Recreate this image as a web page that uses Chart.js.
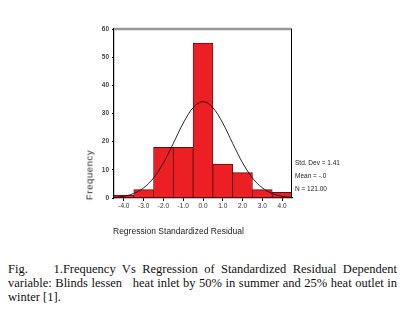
<!DOCTYPE html>
<html>
<head>
<meta charset="utf-8">
<script src="https://cdn.jsdelivr.net/npm/chart.js@4"></script>
<style>
  html, body { margin: 0; padding: 0; background: #fff; }
  body { width: 405px; height: 312px; position: relative; overflow: hidden; }
  #wrap { position: absolute; left: 0; top: 0; width: 405px; height: 240px; }
  .lbl { position: absolute; font-family: "Liberation Sans", Arial, sans-serif; color: #222; white-space: nowrap; }
  #ytitle { left: 89px; top: 175px; font-size: 9.5px; letter-spacing: 0.6px; transform: translate(-50%, -50%) rotate(-90deg); }
  #xtitle { left: 113px; top: 226px; font-size: 8.5px; }
  .stat { left: 295px; font-size: 6.5px; }
  #caption { position: absolute; left: 8px; top: 262px; width: 389px; font-family: "Liberation Serif", "Times New Roman", serif; font-size: 12.5px; line-height: 14px; text-align: justify; color: #111; }
</style>
</head>
<body>
<div id="wrap"><canvas id="histChart"></canvas></div>
<div class="lbl" id="ytitle">Frequency</div>
<div class="lbl" id="xtitle">Regression Standardized Residual</div>
<div class="lbl stat" style="top:159px">Std. Dev = 1.41</div>
<div class="lbl stat" style="top:172px">Mean = -.0</div>
<div class="lbl stat" style="top:185px">N = 121.00</div>
<div id="caption">Fig.&nbsp;&nbsp;&nbsp; 1.Frequency Vs Regression of Standardized Residual Dependent variable: Blinds lessen&nbsp;&nbsp; heat inlet by 50% in summer and 25% heat outlet in winter [1].</div>
<script>
// histogram bins (bin centres) and counts
const binCentres = [-4, -3, -2, -1, 0, 1, 2, 3, 4];
const binCounts = [1, 3, 18, 18, 55, 12, 9, 3, 2];

// fitted normal curve
const curveX = [-4.5, -4, -3.5, -3, -2.5, -2, -1.5, -1, -0.5, 0, 0.5, 1, 1.5, 2, 2.5, 3, 3.5, 4, 4.5];
const curveY = [0.2, 0.6, 1.6, 3.6, 7.1, 12.5, 19.4, 26.6, 32.1, 34.2, 32.1, 26.6, 19.4, 12.5, 7.1, 3.6, 1.6, 0.6, 0.2];

const yTicks = [0, 10, 20, 30, 40, 50, 60];

// grey line at the top and black frame on the right, like the SPSS plot
const framePlugin = {
    id: 'frame',
    afterDatasetsDraw(chart) {
        const { ctx, chartArea } = chart;
        const yTop = chart.scales.y.getPixelForValue(60);
        ctx.save();
        ctx.strokeStyle = '#999';
        ctx.lineWidth = 2.5;
        ctx.beginPath();
        ctx.moveTo(chartArea.left, yTop);
        ctx.lineTo(chartArea.right, yTop);
        ctx.stroke();
        ctx.strokeStyle = '#000';
        ctx.lineWidth = 1;
        ctx.beginPath();
        ctx.moveTo(chartArea.right - 0.5, yTop);
        ctx.lineTo(chartArea.right - 0.5, chartArea.bottom);
        ctx.stroke();
        ctx.restore();
    }
};

const canvas = document.getElementById('histChart');
new Chart(canvas.getContext('2d'), {
    data: {
        datasets: [
            {
                type: 'line',
                data: curveX.map((x, i) => ({ x: x, y: curveY[i] })),
                borderColor: '#111',
                borderWidth: 0.9,
                pointRadius: 0,
                cubicInterpolationMode: 'monotone',
                fill: false,
                order: 0
            },
            {
                type: 'bar',
                data: binCentres.map((x, i) => ({ x: x, y: binCounts[i] })),
                backgroundColor: '#ec2024',
                borderColor: '#5a1010',
                borderWidth: { top: 1, left: 0.8, right: 0.8, bottom: 0 },
                borderSkipped: false,
                barPercentage: 1,
                categoryPercentage: 1,
                order: 1
            }
        ]
    },
    options: {
        responsive: true,
        maintainAspectRatio: false,
        animation: false,
        layout: { padding: { left: 80, right: 113, top: 29, bottom: 22 } },
        plugins: { legend: { display: false }, tooltip: { enabled: false } },
        scales: {
            x: {
                type: 'linear',
                min: -4.5,
                max: 4.5,
                offset: false,
                afterBuildTicks(scale) {
                    scale.ticks = binCentres.map(v => ({ value: v }));
                },
                afterFit(scale) { scale.height = 20; },
                ticks: {
                    callback: v => v.toFixed(1),
                    font: { family: 'Liberation Sans', size: 6.5 },
                    color: '#333',
                    padding: 1,
                    maxRotation: 0
                },
                grid: { offset: false, drawOnChartArea: false, drawTicks: true, tickLength: 3, color: '#000' },
                border: { display: true, color: '#000', width: 1.2 }
            },
            y: {
                min: 0,
                max: 60,
                afterBuildTicks(scale) {
                    scale.ticks = yTicks.map(v => ({ value: v }));
                },
                afterFit(scale) { scale.width = 34; },
                ticks: {
                    font: { family: 'Liberation Sans', size: 6.5, weight: 'bold' },
                    color: '#444',
                    padding: 3
                },
                grid: { drawOnChartArea: false, drawTicks: true, tickLength: 2, color: '#000' },
                border: { display: true, color: '#000', width: 1.2 }
            }
        }
    },
    plugins: [framePlugin]
});
</script>
</body>
</html>
